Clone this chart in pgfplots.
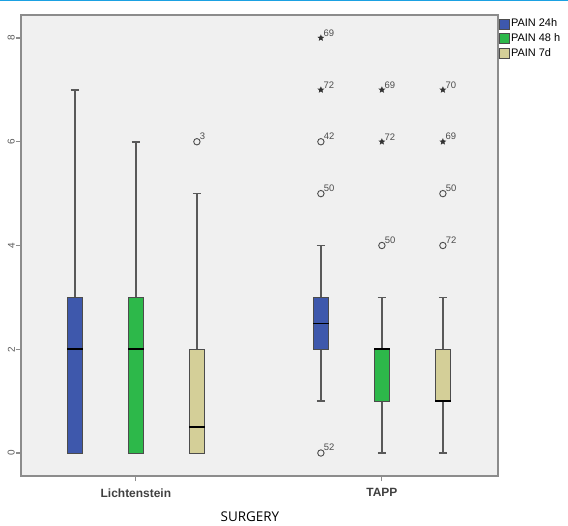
\documentclass[border=0pt]{standalone}
\usepackage{fontspec}
\setmainfont{Liberation Sans}
\newfontfamily\osans{Open Sans}
\usepackage{pgfplots}
\pgfplotsset{compat=1.18}
\usepgfplotslibrary{statistics}
\definecolor{c24}{HTML}{3E58AC}
\definecolor{c48}{HTML}{2DB84A}
\definecolor{c7d}{HTML}{D4CF98}
\definecolor{bg}{HTML}{F0F0F0}
\definecolor{fr}{HTML}{8C8C8C}
\definecolor{topline}{HTML}{1BA1E2}
\pgfdeclareplotmark{fstar}{%
  \pgfpathmoveto{\pgfpointpolar{90}{\pgfplotmarksize}}%
  \pgfpathlineto{\pgfpointpolar{126}{0.45\pgfplotmarksize}}%
  \pgfpathlineto{\pgfpointpolar{162}{\pgfplotmarksize}}%
  \pgfpathlineto{\pgfpointpolar{198}{0.45\pgfplotmarksize}}%
  \pgfpathlineto{\pgfpointpolar{234}{\pgfplotmarksize}}%
  \pgfpathlineto{\pgfpointpolar{270}{0.45\pgfplotmarksize}}%
  \pgfpathlineto{\pgfpointpolar{306}{\pgfplotmarksize}}%
  \pgfpathlineto{\pgfpointpolar{342}{0.45\pgfplotmarksize}}%
  \pgfpathlineto{\pgfpointpolar{18}{\pgfplotmarksize}}%
  \pgfpathlineto{\pgfpointpolar{54}{0.45\pgfplotmarksize}}%
  \pgfpathclose\pgfusepathqfill}
\begin{document}
\begin{tikzpicture}
\begin{axis}[
  at={(21bp,50bp)}, anchor=south west,
  scale only axis, width=477bp, height=461bp,
  xmin=-0.467, xmax=1.472, ymin=-0.443, ymax=8.443,
  axis background/.style={fill=bg},
  axis line style={fr, line width=1.6bp},
  xtick={0,1}, xticklabels={Lichtenstein,TAPP},
  ytick={0,2,4,6,8},
  /pgf/number format/assume math mode=true,
  tick pos=left, tick align=outside,
  major tick length=5bp,
  tick style={fr, line width=1.2bp},
  yticklabel style={rotate=90, anchor=south, inner sep=1bp, font=\fontsize{10}{11}\selectfont, text=black!65},
  xticklabel style={font=\fontsize{12}{14}\selectfont\bfseries, text=black!75, yshift=-4bp},
  xlabel={SURGERY},
  xlabel style={at={(axis description cs:0.48,-0.089)}, anchor=center, font=\osans\fontsize{13.5}{15}\selectfont},
  boxplot/draw direction=y,
  boxplot/box extend=0.062, boxplot/whisker extend=0.033,
  boxplot/every box/.style={draw=black!70, line width=0.8bp},
  boxplot/every whisker/.style={draw=black!65, line width=1.6bp},
  boxplot/every median/.style={draw=black, line width=1.6bp},
  legend style={at={(axis description cs:1.002,0.995)}, anchor=north west, draw=none, fill=none, inner sep=0pt,
    font=\fontsize{11}{12}\selectfont, row sep=2.5bp, nodes={inner sep=1.5bp}},
  legend cell align=left,
]
% Lichtenstein
\addplot[forget plot, fill=c24, draw=black!70, boxplot prepared={draw position=-0.248, lower whisker=0, lower quartile=0, median=2, upper quartile=3, upper whisker=7}] coordinates {};
\addplot[forget plot, fill=c48, draw=black!70, boxplot prepared={draw position=0, lower whisker=0, lower quartile=0, median=2, upper quartile=3, upper whisker=6}] coordinates {};
\addplot[forget plot, fill=c7d, draw=black!70, boxplot prepared={draw position=0.248, lower whisker=0, lower quartile=0, median=0.5, upper quartile=2, upper whisker=5}] coordinates {};
% TAPP
\addplot[forget plot, fill=c24, draw=black!70, boxplot prepared={draw position=0.752, lower whisker=1, lower quartile=2, median=2.5, upper quartile=3, upper whisker=4}] coordinates {};
\addplot[forget plot, fill=c48, draw=black!70, boxplot prepared={draw position=1, lower whisker=0, lower quartile=1, median=2, upper quartile=2, upper whisker=3}] coordinates {};
\addplot[forget plot, fill=c7d, draw=black!70, boxplot prepared={draw position=1.248, lower whisker=0, lower quartile=1, median=1, upper quartile=2, upper whisker=3}] coordinates {};
% outliers
\addplot[forget plot, only marks, mark=o, mark size=3.2bp, mark options={draw=black!70, line width=0.9bp},
  nodes near coords, point meta=explicit symbolic,
  nodes near coords style={anchor=south west, font=\fontsize{9.5}{10}\selectfont, text=black!70, inner sep=0pt, xshift=2.5bp, yshift=1.5bp}]
  coordinates {(0.248,6)[3] (0.752,0)[52] (0.752,5)[50] (0.752,6)[42] (1,4)[50] (1.248,4)[72] (1.248,5)[50]};
\addplot[forget plot, only marks, mark=fstar, mark size=3.6bp, mark options={fill=black!80, draw=none},
  nodes near coords, point meta=explicit symbolic,
  nodes near coords style={anchor=south west, font=\fontsize{9.5}{10}\selectfont, text=black!70, inner sep=0pt, xshift=2.5bp, yshift=1.5bp}]
  coordinates {(0.752,7)[72] (0.752,8)[69] (1,6)[72] (1,7)[69] (1.248,6)[69] (1.248,7)[70]};
\addlegendimage{legend image code/.code={\draw[fill=c24, draw=black!70] (0bp,-5bp) rectangle (10bp,5bp);}}
\addlegendentry{PAIN 24h}
\addlegendimage{legend image code/.code={\draw[fill=c48, draw=black!70] (0bp,-5bp) rectangle (10bp,5bp);}}
\addlegendentry{PAIN 48 h}
\addlegendimage{legend image code/.code={\draw[fill=c7d, draw=black!70] (0bp,-5bp) rectangle (10bp,5bp);}}
\addlegendentry{PAIN 7d}
\end{axis}
\fill[topline] (0bp,524.5bp) rectangle (568bp,526bp);
\pgfresetboundingbox
\useasboundingbox (0bp,0bp) rectangle (568bp,526bp);
\end{tikzpicture}
\end{document}
